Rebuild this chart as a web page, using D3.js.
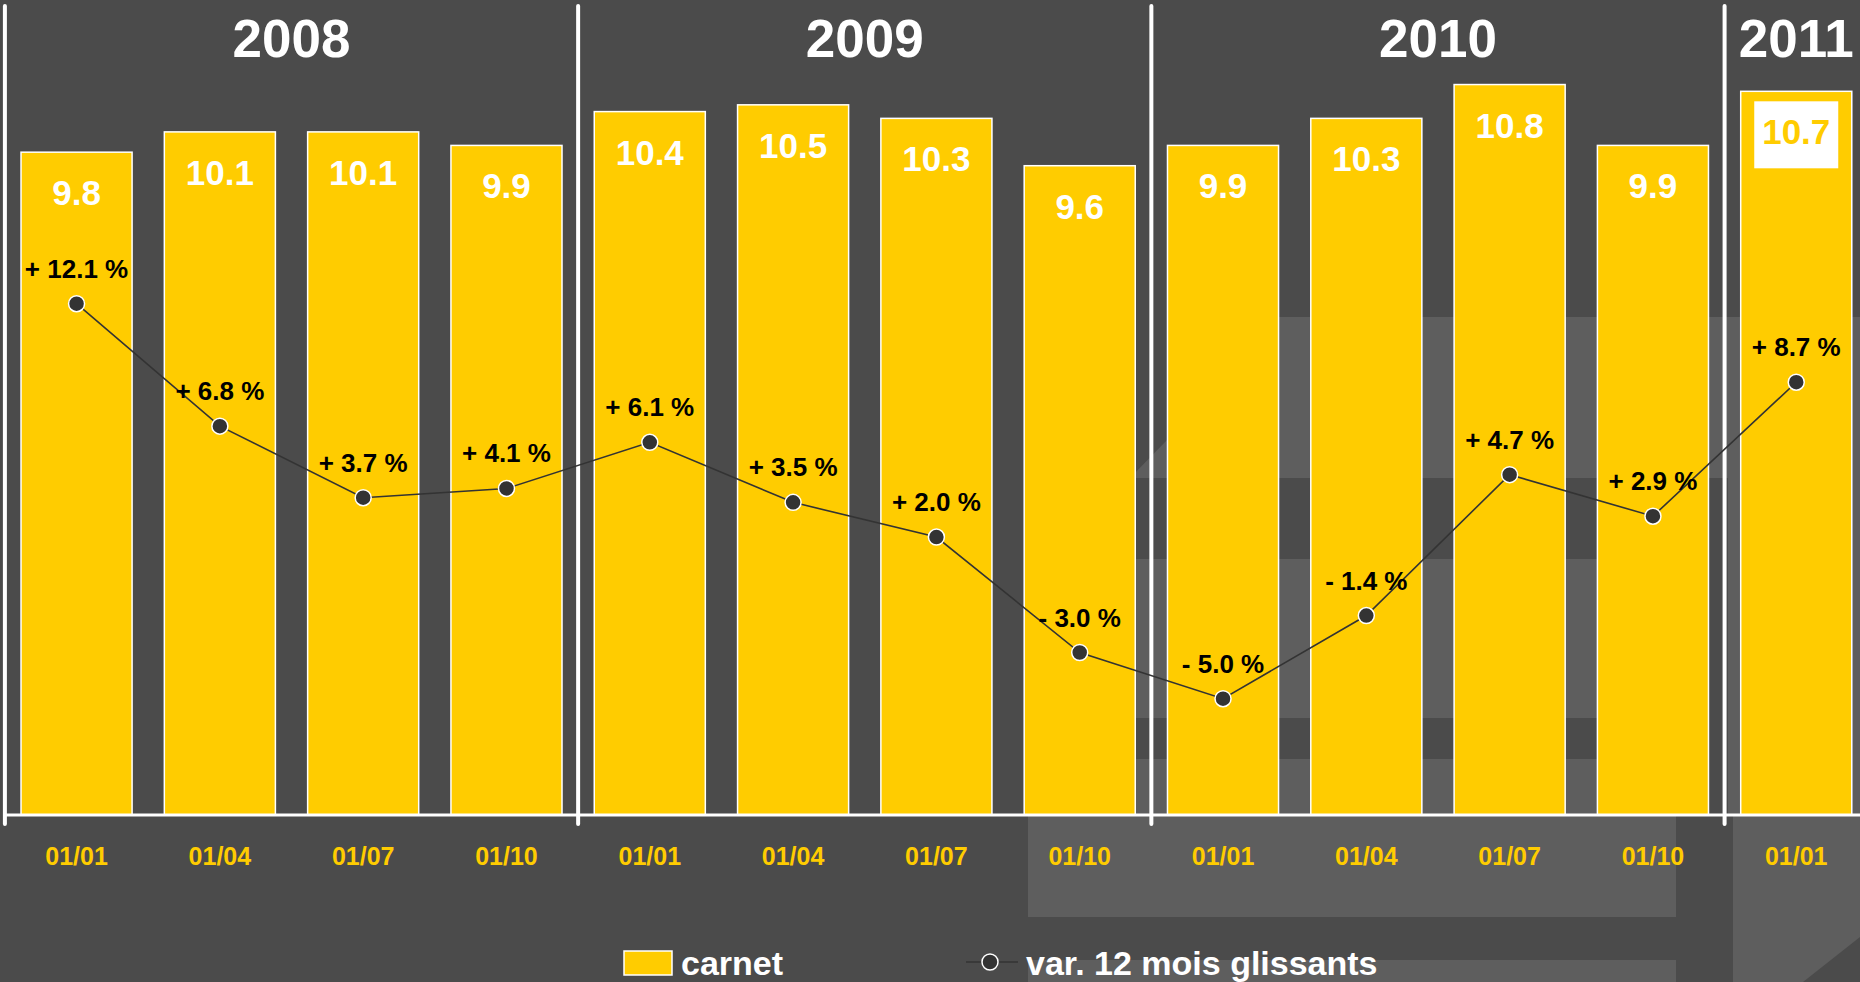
<!DOCTYPE html>
<html>
<head>
<meta charset="utf-8">
<script src="https://cdn.jsdelivr.net/npm/d3@7"></script>
<style>
  body { margin: 0; background: #4b4b4b; }
  svg { display: block; font-family: "Liberation Sans", Arial, sans-serif; font-weight: bold; }
</style>
</head>
<body>
<svg id="chart" width="1860" height="982"></svg>
<script>
const periods = ["2008-01", "2008-04", "2008-07", "2008-10",
                 "2009-01", "2009-04", "2009-07", "2009-10",
                 "2010-01", "2010-04", "2010-07", "2010-10",
                 "2011-01"];
const tickLabels = ["01/01", "01/04", "01/07", "01/10",
                    "01/01", "01/04", "01/07", "01/10",
                    "01/01", "01/04", "01/07", "01/10",
                    "01/01"];
const years = ["2008", "2009", "2010", "2011"];
const carnet = [9.8, 10.1, 10.1, 9.9, 10.4, 10.5, 10.3, 9.6, 9.9, 10.3, 10.8, 9.9, 10.7];
const variation = [12.1, 6.8, 3.7, 4.1, 6.1, 3.5, 2.0, -3.0, -5.0, -1.4, 4.7, 2.9, 8.7];

const svg = d3.select("#chart");
const yellow = "#ffcc00";
const dark = "#333333";
const light = "#5e5e5e";
const baseY = 815;

// slide background decoration
const deco = svg.append("g");
deco.append("rect").attr("width", 1860).attr("height", 982).attr("fill", "#4b4b4b");
const shapes = [
  [[1168, 317], [1860, 317], [1860, 478], [1130, 478], [1168, 439]],
  [[1130, 559], [1700, 559], [1700, 718], [1130, 718]],
  [[1130, 759], [1700, 759], [1700, 815], [1130, 815]],
  [[1728, 478], [1860, 478], [1860, 815], [1728, 815]],
  [[1028, 815], [1676, 815], [1676, 917], [1028, 917]],
  [[1028, 960], [1676, 960], [1676, 982], [1028, 982]],
  [[1733, 815], [1860, 815], [1860, 937], [1803, 982], [1733, 982]]
];
deco.selectAll("polygon")
  .data(shapes)
  .enter()
  .append("polygon")
  .attr("points", d => d.map(p => p.join(",")).join(" "))
  .attr("fill", light);

const x = d3.scaleBand()
  .domain(periods)
  .range([4.9, 1867.9])
  .paddingInner(0.225)
  .paddingOuter(0.1125);
const y = d3.scaleLinear().domain([0, 12.05]).range([baseY, 0]);
const yv = d3.scaleLinear().domain([-5, 12.1]).range([698.7, 303.7]);

const gap = x.step() * x.paddingInner();
const yearOf = p => p.slice(0, 4);

// year separators and labels
const groups = years.map(yr => {
  const ps = periods.filter(p => yearOf(p) === yr);
  const x0 = x(ps[0]) - gap / 2;
  const x1 = x(ps[ps.length - 1]) + x.bandwidth() + gap / 2;
  return { yr, x0, x1 };
});

svg.append("g")
  .selectAll("line")
  .data(groups)
  .enter()
  .append("line")
  .attr("x1", d => d.x0)
  .attr("x2", d => d.x0)
  .attr("y1", 6)
  .attr("y2", 824)
  .attr("stroke", "#fff")
  .attr("stroke-width", 4)
  .attr("stroke-linecap", "round");

svg.append("g")
  .selectAll("text")
  .data(groups)
  .enter()
  .append("text")
  .attr("x", d => (d.x0 + d.x1) / 2)
  .attr("y", 57)
  .attr("text-anchor", "middle")
  .attr("font-size", 53)
  .attr("fill", "#fff")
  .text(d => d.yr);

// bars
svg.append("g")
  .selectAll("rect")
  .data(periods)
  .enter()
  .append("rect")
  .attr("x", d => x(d))
  .attr("y", (d, i) => y(carnet[i]))
  .attr("width", x.bandwidth())
  .attr("height", (d, i) => baseY - y(carnet[i]))
  .attr("fill", yellow)
  .attr("stroke", "#fff")
  .attr("stroke-width", 1.5);

// highlight box behind the latest value
const last = periods.length - 1;
svg.append("rect")
  .attr("x", x(periods[last]) + x.bandwidth() / 2 - 42)
  .attr("y", y(carnet[last]) + 40 - 30)
  .attr("width", 84)
  .attr("height", 67)
  .attr("fill", "#fff");

svg.append("g")
  .selectAll("text")
  .data(periods)
  .enter()
  .append("text")
  .attr("x", d => x(d) + x.bandwidth() / 2)
  .attr("y", (d, i) => y(carnet[i]) + 53)
  .attr("text-anchor", "middle")
  .attr("font-size", 35)
  .attr("fill", (d, i) => i === last ? yellow : "#fff")
  .text((d, i) => carnet[i].toFixed(1));

// axis
svg.append("line")
  .attr("x1", 5)
  .attr("x2", 1860)
  .attr("y1", baseY)
  .attr("y2", baseY)
  .attr("stroke", "#fff")
  .attr("stroke-width", 3);

const xAxis = svg.append("g")
  .attr("transform", `translate(0,${baseY})`)
  .call(d3.axisBottom(x).tickSize(0).tickPadding(32).tickFormat((d, i) => tickLabels[i]));
xAxis.select(".domain").remove();
xAxis.selectAll("text")
  .attr("font-size", 25)
  .attr("font-family", "Liberation Sans, Arial, sans-serif")
  .attr("font-weight", "bold")
  .attr("fill", yellow);

// variation line
const cx = p => x(p) + x.bandwidth() / 2;
const line = d3.line()
  .x(d => cx(d))
  .y((d, i) => yv(variation[i]));

svg.append("path")
  .datum(periods)
  .attr("d", line)
  .attr("fill", "none")
  .attr("stroke", dark)
  .attr("stroke-width", 1.6);

svg.append("g")
  .selectAll("circle")
  .data(periods)
  .enter()
  .append("circle")
  .attr("cx", d => cx(d))
  .attr("cy", (d, i) => yv(variation[i]))
  .attr("r", 8)
  .attr("fill", dark)
  .attr("stroke", "#fff")
  .attr("stroke-width", 1.5);

const fmtPct = v => (v >= 0 ? "+ " : "- ") + Math.abs(v).toFixed(1) + " %";
svg.append("g")
  .selectAll("text")
  .data(periods)
  .enter()
  .append("text")
  .attr("x", d => cx(d))
  .attr("y", (d, i) => yv(variation[i]) - 26)
  .attr("text-anchor", "middle")
  .attr("font-size", 26)
  .attr("fill", "#000")
  .text((d, i) => fmtPct(variation[i]));

// legend
const legend = svg.append("g");
legend.append("rect")
  .attr("x", 624)
  .attr("y", 951)
  .attr("width", 48)
  .attr("height", 24)
  .attr("fill", yellow)
  .attr("stroke", "#fff")
  .attr("stroke-width", 1.5);
legend.append("text")
  .attr("x", 681)
  .attr("y", 975)
  .attr("font-size", 34)
  .attr("fill", "#fff")
  .text("carnet");

legend.append("line")
  .attr("x1", 966)
  .attr("x2", 1018)
  .attr("y1", 962)
  .attr("y2", 962)
  .attr("stroke", dark)
  .attr("stroke-width", 1.6);
legend.append("circle")
  .attr("cx", 990)
  .attr("cy", 962)
  .attr("r", 8)
  .attr("fill", dark)
  .attr("stroke", "#fff")
  .attr("stroke-width", 1.5);
legend.append("text")
  .attr("x", 1026)
  .attr("y", 975)
  .attr("font-size", 34)
  .attr("fill", "#fff")
  .text("var. 12 mois glissants");
</script>
</body>
</html>
